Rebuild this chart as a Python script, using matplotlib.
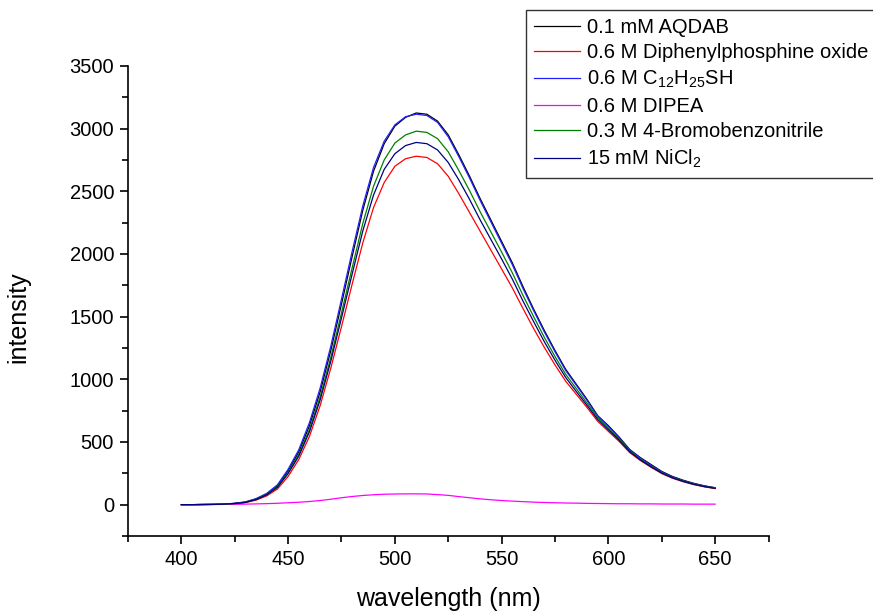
import matplotlib
matplotlib.use("Agg")
import matplotlib.pyplot as plt
from matplotlib.ticker import MultipleLocator

plt.rcParams['font.family'] = ['Liberation Sans', 'DejaVu Sans']

# emission spectra, read every 5 nm from 400 to 650 nm
wavelength = list(range(400, 651, 5))

aqdab = [0, 0, 1, 2, 4, 10, 20, 45, 85, 150, 270, 420, 630, 900, 1230, 1600,
         1980, 2350, 2660, 2880, 3020, 3090, 3125, 3115, 3060, 2950, 2790,
         2620, 2440, 2270, 2100, 1930, 1740, 1560, 1390, 1230, 1080, 960, 840,
         710, 630, 540, 440, 375, 320, 265, 225, 195, 170, 150, 135]
diphenyl = [0, 0, 1, 2, 3, 8, 16, 36, 70, 125, 225, 360, 545, 790, 1090, 1420,
            1760, 2090, 2370, 2570, 2700, 2760, 2780, 2770, 2720, 2620, 2480,
            2330, 2180, 2030, 1880, 1730, 1565, 1405, 1255, 1115, 985, 880, 775,
            665, 585, 505, 415, 352, 298, 248, 211, 183, 160, 142, 128]
thiol = [0, 0, 1, 2, 4, 11, 22, 48, 90, 158, 282, 438, 655, 930, 1265, 1640,
         2020, 2385, 2690, 2900, 3030, 3095, 3115, 3105, 3050, 2935, 2775,
         2605, 2425, 2255, 2085, 1915, 1725, 1548, 1378, 1220, 1070, 952, 832,
         705, 622, 534, 436, 371, 314, 261, 222, 192, 168, 148, 134]
dipea = [0, 0, 1, 1, 2, 3, 4, 6, 8, 11, 15, 19, 25, 33, 43, 55, 65, 73, 79, 83,
         85, 86, 86, 85, 80, 74, 64, 55, 46, 39, 33, 28, 24, 20, 17, 15, 13, 12,
         10, 9, 8, 7, 7, 6, 6, 5, 5, 5, 4, 4, 4]
bromo = [0, 0, 1, 2, 4, 9, 19, 43, 81, 143, 257, 400, 600, 860, 1175, 1530,
         1890, 2245, 2540, 2750, 2885, 2950, 2980, 2970, 2920, 2815, 2665,
         2505, 2335, 2175, 2015, 1850, 1670, 1500, 1335, 1182, 1040, 925, 810,
         695, 608, 523, 429, 362, 306, 255, 217, 189, 165, 146, 132]
nicl2 = [0, 0, 1, 2, 4, 9, 18, 41, 78, 138, 248, 387, 582, 835, 1145, 1490,
         1840, 2185, 2470, 2675, 2800, 2865, 2890, 2880, 2830, 2730, 2590,
         2435, 2270, 2115, 1960, 1800, 1625, 1460, 1300, 1152, 1015, 902, 792,
         680, 597, 515, 423, 357, 302, 252, 214, 186, 162, 144, 130]

series = [
    (aqdab, '0.1 mM AQDAB', 'black'),
    (diphenyl, '0.6 M Diphenylphosphine oxide', 'red'),
    (thiol, r'0.6 M C$\mathregular{_{12}}$H$\mathregular{_{25}}$SH', '#2020ff'),
    (dipea, '0.6 M DIPEA', 'magenta'),
    (bromo, '0.3 M 4-Bromobenzonitrile', 'green'),
    (nicl2, r'15 mM NiCl$\mathregular{_2}$', 'navy'),
]

fig = plt.figure(figsize=(8.73, 6.15), dpi=100)
ax = fig.add_axes([0.1466, 0.1285, 0.7337, 0.7642])

for y, lab, col in series:
    ax.plot(wavelength, y, color=col, lw=0.9, label=lab)

ax.set_xlim(375, 675)
ax.set_ylim(-250, 3500)
ax.xaxis.set_minor_locator(MultipleLocator(25))
ax.yaxis.set_minor_locator(MultipleLocator(250))
ax.set_xticks([400, 450, 500, 550, 600, 650])
ax.set_yticks([0, 500, 1000, 1500, 2000, 2500, 3000, 3500])

for s in ['top', 'right']:
    ax.spines[s].set_visible(False)
for s in ['left', 'bottom']:
    ax.spines[s].set_linewidth(1.2)

ax.tick_params(which='major', direction='out', length=6, width=1.2,
               labelsize=14.5, pad=4)
ax.tick_params(which='minor', direction='out', length=4, width=1.2)

ax.set_xlabel('wavelength (nm)', fontsize=18)
ax.set_ylabel('intensity', fontsize=18)
ax.xaxis.set_label_coords(0.5, -0.108)
ax.yaxis.set_label_coords(-0.153, 0.466)

leg = fig.legend(loc='upper left', bbox_to_anchor=(526 / 873, 1 - 10 / 615),
                 bbox_transform=fig.transFigure, borderaxespad=0,
                 fontsize=14.5, frameon=True, fancybox=False,
                 edgecolor='black', handlelength=2.3, handletextpad=0.35,
                 labelspacing=0.32, borderpad=0.4)
leg.get_frame().set_linewidth(1.0)

fig.savefig('out.png', dpi=100)
